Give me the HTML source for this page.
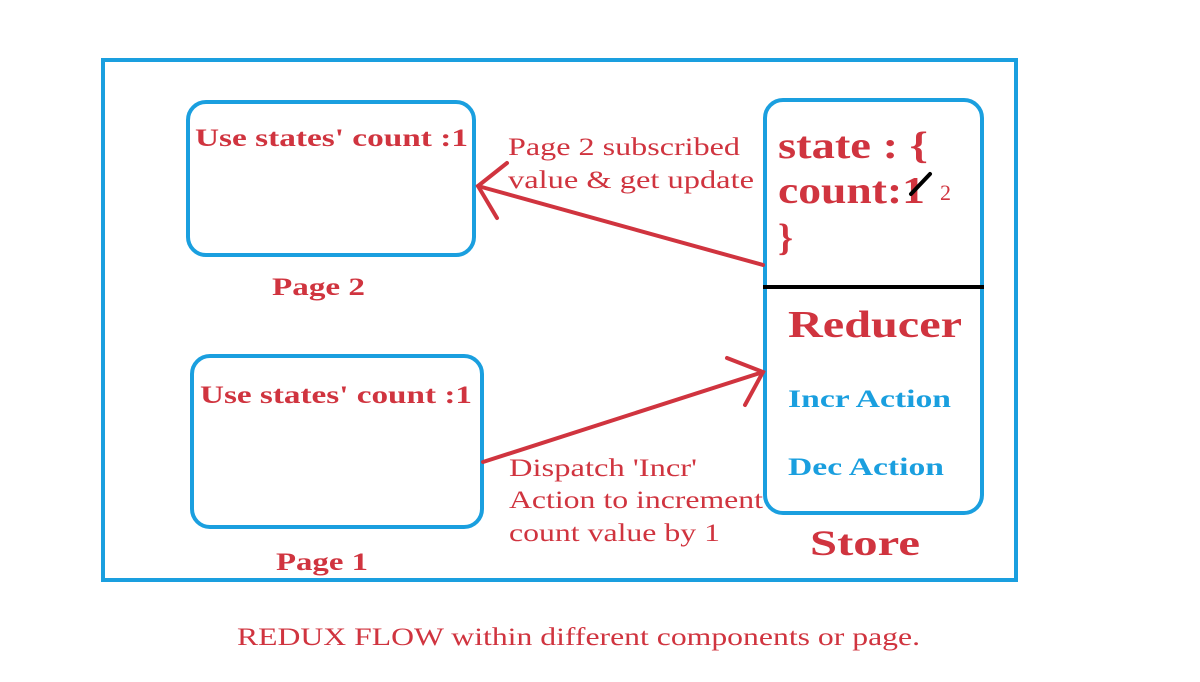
<!DOCTYPE html>
<html><head><meta charset="utf-8"><style>
html,body{margin:0;padding:0;background:#fff;width:1200px;height:682px;overflow:hidden}
svg{display:block}
text{font-family:"Liberation Serif",serif}
.r{fill:#d0343f}
.b{fill:#1a9fdf}
</style></head><body>
<svg width="1200" height="682" viewBox="0 0 1200 682">
<rect x="103" y="60" width="913" height="520" fill="none" stroke="#1a9fdf" stroke-width="4"/>
<rect x="188" y="102" width="286" height="153" rx="18" fill="none" stroke="#1a9fdf" stroke-width="4"/>
<rect x="192" y="356" width="290" height="171" rx="18" fill="none" stroke="#1a9fdf" stroke-width="4"/>
<rect x="765" y="100" width="217" height="413" rx="18" fill="none" stroke="#1a9fdf" stroke-width="4"/>
<line x1="763" y1="287" x2="984" y2="287" stroke="#000" stroke-width="4"/>
<g stroke="#d0343f" stroke-width="4" fill="none" stroke-linecap="round">
<line x1="763" y1="265" x2="478" y2="186"/>
<polyline points="507,163 478,186 497,218"/>
<line x1="483" y1="462" x2="763" y2="372"/>
<polyline points="727,358 763,372 745,405"/>
</g>
<g font-weight="bold" class="r" lengthAdjust="spacingAndGlyphs">
<text x="195" y="146" font-size="25" textLength="273" lengthAdjust="spacingAndGlyphs">Use states' count :1</text>
<text x="200" y="403" font-size="25" textLength="272" lengthAdjust="spacingAndGlyphs">Use states' count :1</text>
<text x="272" y="295" font-size="25" textLength="93" lengthAdjust="spacingAndGlyphs">Page 2</text>
<text x="276" y="570" font-size="25" textLength="92" lengthAdjust="spacingAndGlyphs">Page 1</text>
<text x="778" y="158" font-size="38" textLength="150" lengthAdjust="spacingAndGlyphs">state : {</text>
<text x="778" y="203" font-size="38" textLength="147" lengthAdjust="spacingAndGlyphs">count:1</text>
<text x="778" y="250" font-size="38">}</text>
<text x="788" y="337" font-size="38" textLength="174" lengthAdjust="spacingAndGlyphs">Reducer</text>
<text x="810" y="555" font-size="36" textLength="110" lengthAdjust="spacingAndGlyphs">Store</text>
</g>
<line x1="911" y1="194" x2="930" y2="174" stroke="#000" stroke-width="4" stroke-linecap="round"/>
<text x="940" y="200" font-size="22" class="r">2</text>
<g font-weight="bold" class="b" font-size="25">
<text x="788" y="407" textLength="163" lengthAdjust="spacingAndGlyphs">Incr Action</text>
<text x="788" y="475" textLength="156" lengthAdjust="spacingAndGlyphs">Dec Action</text>
</g>
<g class="r" font-size="25">
<text x="508" y="155" textLength="232" lengthAdjust="spacingAndGlyphs">Page 2 subscribed</text>
<text x="508" y="188" textLength="246" lengthAdjust="spacingAndGlyphs">value &amp; get update</text>
<text x="509" y="476" textLength="188" lengthAdjust="spacingAndGlyphs">Dispatch 'Incr'</text>
<text x="509" y="508" textLength="254" lengthAdjust="spacingAndGlyphs">Action to increment</text>
<text x="509" y="541" textLength="211" lengthAdjust="spacingAndGlyphs">count value by 1</text>
<text x="237" y="645" textLength="683" lengthAdjust="spacingAndGlyphs">REDUX FLOW within different components or page.</text>
</g>
</svg>
</body></html>
